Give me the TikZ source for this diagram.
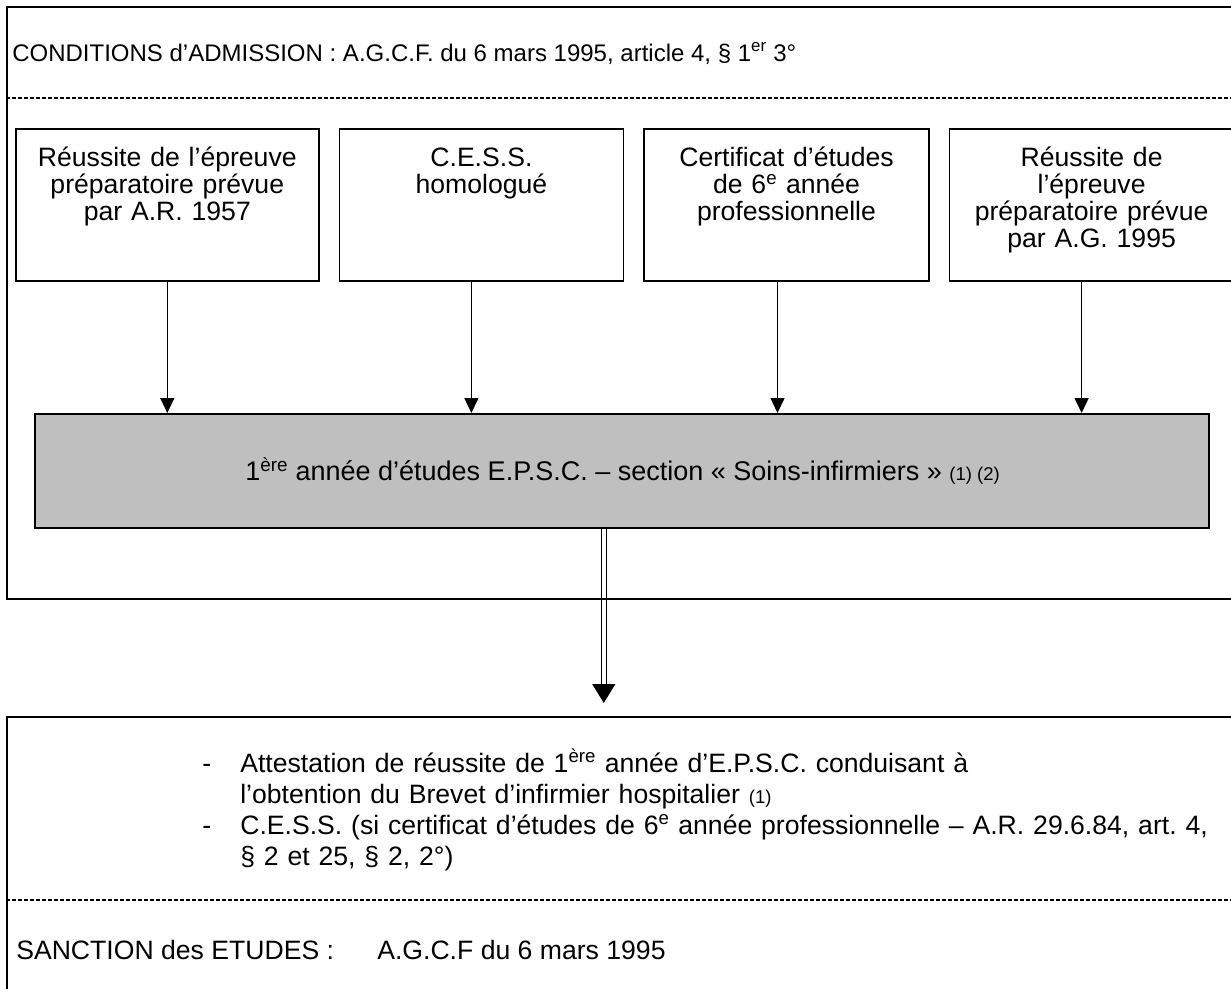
\documentclass[tikz,border=0pt]{standalone}
\usepackage{fontspec}
\setmainfont{Liberation Sans}
\usepackage{tikz}
\usetikzlibrary{backgrounds}
\usetikzlibrary{positioning}
\usetikzlibrary{arrows.meta}
\definecolor{bandgray}{rgb}{0.75,0.75,0.75}
\frenchspacing

\begin{document}
\begin{tikzpicture}[
            x = 1pt, y = -1pt, % pixel grid, y going down
            > = {Triangle[width=14pt, length=15pt]}, % arrow head style
            semithick
        ]

        \tikzstyle{outerframe}=[
            draw,
            line width = 2.4pt,
            inner sep = 0pt,
            anchor = north west
        ]
        \tikzstyle{cond}=[
            draw,
            line width = 1.6pt,
            align = center,
            anchor = north west,
            inner xsep = 8pt,
            inner ysep = 14pt,
            text height = 24pt,
            text depth = 100pt,
            font = \fontsize{26.6}{27}\selectfont
        ]
        \tikzstyle{txt}=[inner sep = 0pt, font = \fontsize{26.6}{31}\selectfont]
        \tikzstyle{divider}=[line width = 1.4pt, dash pattern = on 4pt off 2pt]
        \tikzstyle{arr}=[->, line width = 1.5pt]

        \useasboundingbox (0,0) rectangle (1231,988);

        % admission frame
        \node[outerframe, minimum width = 1234pt, minimum height = 592pt] (adm) at (6,6) {};
        \node[txt, anchor = base west, font = \fontsize{24}{28}\selectfont] (admtitle) at (12,61)
            {CONDITIONS d’ADMISSION : A.G.C.F. du 6 mars 1995, article 4, § 1\textsuperscript{er} 3°};
        \draw[divider] (6,98) -- (1240,98);

        % entry conditions
        \node[cond, text width = 287pt] (b1) at (15,128) {Réussite de l’épreuve\\préparatoire prévue\\par A.R. 1957};
        \node[cond, text width = 268pt, right = 19pt of b1] (b2) {C.E.S.S.\\homologué};
        \node[cond, text width = 269pt, right = 19pt of b2] (b3) {Certificat d’études\\de 6\textsuperscript{e} année\\professionnelle};
        \node[cond, text width = 268pt, right = 19pt of b3] (b4) {Réussite de\\l’épreuve\\préparatoire prévue\\par A.G. 1995};

        % first year
        \node[draw, line width = 1.6pt, fill = bandgray, inner sep = 0pt, anchor = north west,
              minimum width = 1174pt, minimum height = 114pt] (epsc) at (34,413) {};
        \node[txt, anchor = west, font = \fontsize{27}{31}\selectfont] (epsctext) at ([xshift = 211pt]epsc.west)
            {1\textsuperscript{ère} année d’études E.P.S.C. – section «~Soins-infirmiers~» {\fontsize{18.5}{18}\selectfont (1) (2)}};

        \coordinate (a1) at (b1.south);
        \coordinate (a2) at ([xshift = -10pt]b2.south);
        \coordinate (a3) at ([xshift = -9pt]b3.south);
        \coordinate (a4) at ([xshift = -10pt]b4.south);
        \foreach \a in {a1, a2, a3, a4}
            \draw[arr] (\a) -- (\a |- epsc.north);

        % sanction frame
        \node[outerframe, minimum width = 1234pt, minimum height = 300pt] (sanc) at (6,716) {};

        \node[txt, anchor = base west, align = left, text width = 980pt] (att) at (240,772)
            {Attestation de réussite de 1\textsuperscript{ère} année d’E.P.S.C. conduisant à\\
             l’obtention du Brevet d’infirmier hospitalier {\fontsize{18.5}{18}\selectfont (1)}};
        \node[txt, anchor = base west, align = left, text width = 980pt] (cess) at (240,834)
            {C.E.S.S. (si certificat d’études de 6\textsuperscript{e} année professionnelle – A.R. 29.6.84, art. 4,\\
             § 2 et 25, § 2, 2°)};
        \node[txt, anchor = base west] (d1) at (202,772) {-};
        \node[txt, anchor = base west] (d2) at (202,834) {-};

        \draw[divider] (6,900) -- (1240,900);
        \node[txt, anchor = base west] (sanclbl) at (16,959) {SANCTION des ETUDES :};
        \node[txt, anchor = base west] (sancref) at (377,959) {A.G.C.F du 6 mars 1995};

        % double arrow down to the sanction
        \begin{scope}[on background layer]
            \coordinate (dbl) at ([xshift = -18pt]epsc.south);
            \draw[line width = 1.3pt, double distance = 3.5pt,
                  -{Triangle[width = 23pt, length = 19pt]}, shorten > = 13pt] (dbl) -- (dbl |- sanc.north);
        \end{scope}

\end{tikzpicture}
\end{document}
